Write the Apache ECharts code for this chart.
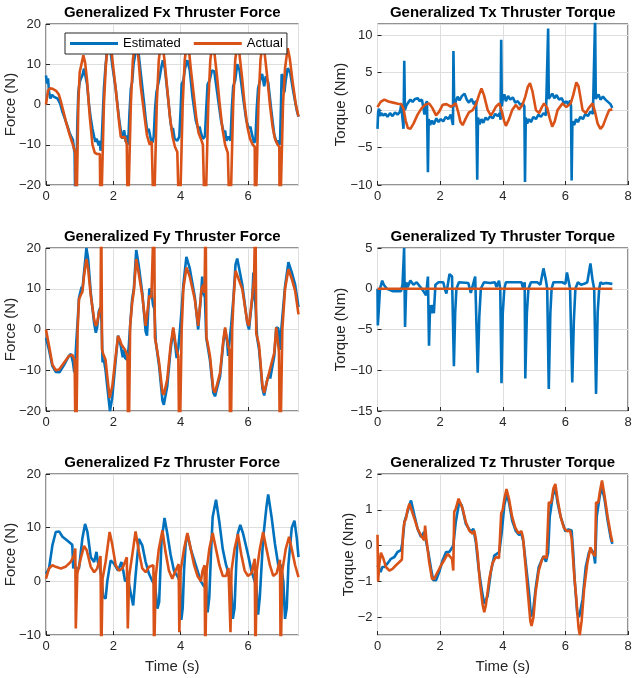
<!DOCTYPE html>
<html><head><meta charset="utf-8">
<script src="https://cdn.jsdelivr.net/npm/echarts@6/dist/echarts.min.js"></script>
<style>html,body{margin:0;padding:0;background:#fff}#c{width:636px;height:678px}</style>
</head><body><div id="c"></div>
<script>
// ---- data: [time (s), value] ----
const fxEst = [[0,7.2],[0.03,5.2],[0.06,6.5],[0.09,3.1],[0.13,1.5],[0.18,2.4],[0.24,1.9],[0.34,1.5],[0.42,0.2],[0.49,-1.9],[0.56,-3.5],[0.63,-5.2],[0.7,-7],[0.75,-8],[0.8,-8.8],[0.83,-11],[0.85,-12],[0.87,-25],[0.9,-20],[0.93,-5],[0.96,3],[1.0,5.6],[1.04,6.5],[1.08,7.2],[1.13,8.9],[1.17,8.6],[1.22,5],[1.28,-0.2],[1.33,-3.5],[1.38,-6],[1.43,-8],[1.47,-9.3],[1.5,-8.5],[1.54,-9.5],[1.57,-10.2],[1.6,-9],[1.62,-11.5],[1.65,-10],[1.69,-2],[1.72,3.9],[1.77,9.7],[1.82,13.9],[1.87,15.5],[1.92,13],[1.97,9.7],[2.07,3.9],[2.17,-3.5],[2.24,-7.7],[2.27,-8.5],[2.32,-6.4],[2.37,-9.3],[2.4,-7.7],[2.44,-10],[2.48,-2],[2.52,3.9],[2.56,5.6],[2.6,10],[2.64,12],[2.67,13.9],[2.71,14.7],[2.76,12],[2.81,8.1],[2.91,0.6],[2.96,-3.5],[3.01,-6.8],[3.05,-6],[3.11,-8.5],[3.16,-9.5],[3.2,-8],[3.24,-1],[3.28,3],[3.33,5],[3.37,6.5],[3.42,9],[3.47,11],[3.53,9],[3.62,2],[3.7,-4.5],[3.74,-6.5],[3.77,-5.8],[3.82,-8.5],[3.9,-9],[3.96,-8],[4.0,-1],[4.03,5],[4.08,6],[4.13,9],[4.2,11],[4.27,8.5],[4.35,2],[4.45,-4],[4.52,-6],[4.56,-5.5],[4.6,-7],[4.66,-8.5],[4.72,-8],[4.76,-1],[4.8,5],[4.86,6],[4.93,8.5],[5.0,8.2],[5.1,2],[5.2,-4],[5.28,-7],[5.32,-6.5],[5.36,-9],[5.42,-8],[5.48,-9],[5.52,-1],[5.56,4.5],[5.62,6],[5.68,10],[5.75,8.5],[5.85,2],[5.95,-4],[6.03,-6],[6.07,-5.5],[6.12,-7.5],[6.18,-9.5],[6.22,-9],[6.26,-1],[6.3,4],[6.36,6],[6.42,7.6],[6.48,4.5],[6.53,7],[6.6,5.5],[6.7,-2],[6.78,-7.5],[6.85,-9.5],[6.9,-9],[6.95,-10],[6.98,0],[7.0,7.5],[7.04,7],[7.08,3],[7.12,6],[7.18,9],[7.25,8],[7.35,3],[7.45,-1.5],[7.5,-3]];
const fxAct = [[0,0],[0.06,3.5],[0.12,4],[0.2,3.9],[0.3,3.4],[0.38,2.5],[0.45,0.5],[0.52,-1.8],[0.6,-4.5],[0.7,-7.5],[0.78,-9.5],[0.85,-11.4],[0.87,-12],[0.89,-30],[0.92,-20],[0.96,0],[1.0,8],[1.04,9.5],[1.11,12.2],[1.16,10.5],[1.22,6],[1.3,-3],[1.38,-10],[1.45,-12],[1.52,-12.3],[1.6,-12.3],[1.62,-30],[1.66,-20],[1.72,0],[1.78,10],[1.84,15],[1.9,15.5],[1.96,12],[2.07,3.9],[2.17,-4.3],[2.22,-8],[2.28,-8.2],[2.34,-8],[2.4,-10],[2.43,-30],[2.46,-20],[2.52,0],[2.58,11],[2.64,15],[2.7,15],[2.75,11],[2.81,4.8],[2.91,-1.9],[3.0,-7.7],[3.08,-10],[3.14,-9.2],[3.18,-9],[3.2,-30],[3.23,-20],[3.29,0],[3.35,11],[3.41,15],[3.47,14.5],[3.52,11],[3.6,4],[3.68,-3],[3.76,-8],[3.83,-10.5],[3.9,-11.8],[3.95,-12],[3.96,-30],[4.0,-20],[4.06,0],[4.12,11],[4.18,15],[4.24,14],[4.3,9],[4.38,3],[4.46,-3],[4.53,-7],[4.6,-8.5],[4.66,-10],[4.7,-10],[4.72,-30],[4.76,-20],[4.82,0],[4.88,11],[4.94,15],[5.0,13],[5.08,7],[5.16,0],[5.24,-6],[5.32,-10],[5.4,-12],[5.45,-12],[5.46,-30],[5.5,-20],[5.56,0],[5.62,11],[5.68,15],[5.74,13],[5.82,7],[5.9,0],[5.98,-5.5],[6.06,-8.5],[6.14,-10],[6.2,-10.5],[6.21,-30],[6.25,-20],[6.31,0],[6.37,11],[6.43,15],[6.49,13],[6.57,7],[6.65,0],[6.73,-5.5],[6.8,-8.5],[6.88,-10],[6.93,-10.5],[6.94,-30],[6.98,-20],[7.04,0],[7.1,9],[7.18,14],[7.24,11.5],[7.32,6],[7.42,0],[7.5,-3]];

const txEst = [[0,-2.5],[0.02,-0.3],[0.05,0.2],[0.08,-0.8],[0.12,-0.4],[0.18,-0.7],[0.25,-0.5],[0.32,-0.9],[0.4,-0.4],[0.48,-0.8],[0.56,-0.3],[0.64,-0.6],[0.72,-0.2],[0.76,0.8],[0.8,-1.2],[0.83,-2.5],[0.855,6.6],[0.875,0],[0.92,0.6],[0.98,1.0],[1.05,1.4],[1.12,1.1],[1.2,1.5],[1.28,1.6],[1.35,1.2],[1.42,1.4],[1.46,0.4],[1.5,-0.6],[1.54,0.8],[1.58,1.2],[1.61,-8.3],[1.635,-1.2],[1.68,-2],[1.74,-1.4],[1.8,-1.9],[1.88,-1.1],[1.95,-1.6],[2.02,-1.2],[2.1,-1.5],[2.18,-0.9],[2.26,-1.2],[2.34,-0.6],[2.39,-0.8],[2.41,-2],[2.425,7.9],[2.45,0.5],[2.5,1.2],[2.56,1.8],[2.62,1.3],[2.7,1.9],[2.78,2.2],[2.85,1.4],[2.92,1.0],[3.0,1.5],[3.08,0.8],[3.15,1.2],[3.185,-9.3],[3.21,-1],[3.26,-1.9],[3.32,-1.2],[3.38,-1.7],[3.45,-1.0],[3.52,-1.3],[3.6,-0.8],[3.68,-1.1],[3.76,-0.5],[3.84,-0.8],[3.9,-0.4],[3.93,-1.3],[3.95,9.4],[3.97,0.5],[4.0,1.5],[4.05,2.1],[4.1,1.2],[4.17,1.9],[4.24,1.4],[4.32,1.7],[4.4,1.0],[4.48,1.2],[4.56,0.7],[4.64,0.9],[4.69,0.5],[4.71,-9.6],[4.735,-1],[4.78,-1.8],[4.84,-1.2],[4.9,-1.6],[4.98,-0.9],[5.06,-1.2],[5.14,-0.6],[5.22,-0.9],[5.3,-0.4],[5.38,-0.7],[5.43,-0.9],[5.45,10.9],[5.47,1.5],[5.52,1.3],[5.58,2.2],[5.65,1.6],[5.72,2.0],[5.8,1.4],[5.88,1.6],[5.96,0.9],[6.04,1.2],[6.1,0.6],[6.15,1.3],[6.18,0.6],[6.2,-9.4],[6.225,-1.5],[6.28,-2],[6.34,-1.2],[6.4,-1.6],[6.48,-0.9],[6.56,-1.2],[6.64,-0.5],[6.72,-0.8],[6.8,-0.2],[6.88,-0.5],[6.93,-0.6],[6.95,12.5],[6.97,1.5],[7.02,1.7],[7.06,2.1],[7.12,1.4],[7.2,1.8],[7.28,1.4],[7.36,1.1],[7.44,0.8],[7.5,0.3]];
const txAct = [[0,0.4],[0.1,1.1],[0.22,1.4],[0.35,1.15],[0.5,1.0],[0.65,0.85],[0.76,0.8],[0.83,0.2],[0.9,-1.4],[0.97,-2.4],[1.05,-2.5],[1.15,-1.8],[1.28,-0.6],[1.4,0.2],[1.52,0.7],[1.65,0.9],[1.75,0.3],[1.87,-0.7],[1.97,-0.2],[2.08,0.7],[2.2,0.8],[2.35,0.45],[2.5,0.9],[2.58,-0.3],[2.65,-1.6],[2.72,-2.0],[2.82,-1.1],[2.92,-0.3],[3.04,0],[3.15,0.8],[3.24,2],[3.32,2.9],[3.4,2],[3.52,0],[3.62,-0.7],[3.7,-0.2],[3.78,0.45],[3.89,0.9],[3.98,-0.3],[4.04,-1.4],[4.1,-2.1],[4.2,-1.2],[4.3,0],[4.42,0.7],[4.52,0.1],[4.63,0.7],[4.72,1.8],[4.8,3.1],[4.87,3.6],[4.95,2.5],[5.06,0],[5.16,-0.4],[5.25,0.4],[5.32,0.9],[5.42,0.3],[5.5,-1.1],[5.58,-2.2],[5.66,-1.5],[5.75,0],[5.91,0.9],[6.03,0.4],[6.17,0.9],[6.25,2],[6.35,3.7],[6.42,3.2],[6.55,0],[6.65,-0.4],[6.75,0.3],[6.87,0.9],[6.95,-0.3],[7.03,-1.8],[7.12,-2.5],[7.2,-2.1],[7.3,-1],[7.4,0],[7.5,0.1]];

const fyEst = [[0,-2],[0.09,-5],[0.19,-9],[0.29,-10.4],[0.4,-10.5],[0.53,-8.8],[0.68,-6.5],[0.74,-6],[0.8,-8],[0.84,-10.5],[0.87,-8],[0.9,-3],[0.94,2],[0.98,7.8],[1.03,9.5],[1.06,10.5],[1.08,9.5],[1.13,14],[1.2,20],[1.25,17.5],[1.33,9],[1.43,1.5],[1.48,-0.8],[1.52,0.5],[1.57,4.5],[1.62,5.5],[1.65,2],[1.68,-8],[1.72,-7.5],[1.77,-10],[1.82,-14],[1.9,-20],[1.97,-16.5],[2.07,-7.5],[2.14,-1.5],[2.19,-3],[2.22,-4],[2.28,-6.8],[2.31,-5],[2.35,-7],[2.42,-7.5],[2.46,-4],[2.5,1],[2.56,7.5],[2.61,10],[2.68,19.5],[2.75,16],[2.86,9],[2.96,-0.5],[3.0,-1.5],[3.07,10],[3.13,9.5],[3.18,6],[3.22,5],[3.26,-3],[3.36,-9],[3.46,-17.5],[3.5,-18.5],[3.6,-14],[3.7,-5],[3.78,0],[3.84,-4],[3.88,-7],[3.93,-4.5],[3.98,0],[4.03,5],[4.08,11],[4.17,17.8],[4.27,15],[4.42,8],[4.52,0],[4.6,8],[4.64,13],[4.67,9],[4.72,8],[4.76,-2],[4.8,-4],[4.87,-7.5],[4.97,-15.5],[5.02,-16.4],[5.17,-11.5],[5.27,-3],[5.32,0],[5.38,-3],[5.41,-6.5],[5.45,-3],[5.5,1],[5.57,8],[5.63,16],[5.68,17.4],[5.83,11],[5.98,1.5],[6.03,0],[6.13,8],[6.16,14],[6.19,9],[6.23,5],[6.27,-2],[6.33,-5],[6.43,-14.5],[6.48,-16.2],[6.58,-12],[6.63,-11],[6.66,-12],[6.78,-6.5],[6.84,0.5],[6.9,0.3],[6.95,-5],[6.98,-1],[7.02,3],[7.1,10.5],[7.2,16.5],[7.3,14],[7.4,11],[7.5,5.5]];
const fyAct = [[0,0],[0.09,-4],[0.19,-8.6],[0.29,-10],[0.39,-9.8],[0.53,-8.2],[0.68,-6.5],[0.78,-6.2],[0.85,-7.5],[0.88,-30],[0.91,-20],[0.94,0],[0.98,7.4],[1.03,8.4],[1.08,9.2],[1.13,13.2],[1.2,17.3],[1.25,15],[1.33,8.3],[1.43,2.5],[1.48,0.9],[1.52,1.6],[1.57,4],[1.62,5.4],[1.64,30],[1.665,-5],[1.7,-6],[1.77,-7.5],[1.82,-11.5],[1.89,-16.8],[1.97,-13.9],[2.07,-6.5],[2.14,-1.6],[2.19,-2.4],[2.24,-3.7],[2.29,-3.4],[2.35,-5],[2.42,-6.5],[2.44,-30],[2.47,-20],[2.5,0.9],[2.56,6.6],[2.61,9.5],[2.68,17.3],[2.75,14],[2.86,8.3],[2.96,0.9],[3.0,0.5],[3.07,8.3],[3.13,7.8],[3.18,7.5],[3.21,30],[3.235,-2],[3.28,-4],[3.36,-8.2],[3.46,-15.5],[3.5,-16],[3.6,-12.3],[3.7,-4],[3.78,0.5],[3.84,-3],[3.88,-5],[3.93,-6.5],[3.96,-30],[3.99,-20],[4.03,0],[4.08,10],[4.17,15.2],[4.27,13],[4.42,7.4],[4.52,0.9],[4.62,9.9],[4.67,11],[4.71,9],[4.74,30],[4.765,-2],[4.8,-3.3],[4.87,-6.5],[4.97,-14.7],[5.02,-15.5],[5.17,-10.6],[5.27,-2.4],[5.32,0.5],[5.41,-4],[5.45,-5],[5.47,-30],[5.5,-20],[5.53,0],[5.57,7.4],[5.63,14.4],[5.68,14.8],[5.83,9.9],[5.98,1.7],[6.03,0.9],[6.13,8.3],[6.18,12.4],[6.22,30],[6.245,-1],[6.28,-2],[6.33,-4],[6.43,-13.9],[6.48,-15.5],[6.63,-10.5],[6.78,-5.7],[6.84,0.5],[6.92,-5.5],[6.95,-30],[6.98,-20],[7.02,0],[7.1,9.9],[7.2,14.8],[7.3,12.4],[7.4,9.5],[7.5,3.7]];

const tyEst = [[0,0],[0.01,-4.5],[0.05,-2],[0.08,0],[0.15,1],[0.2,0.5],[0.3,0],[0.5,-0.3],[0.75,-0.3],[0.8,0.5],[0.85,5],[0.88,-4.7],[0.92,0.8],[0.96,0.2],[1.05,1],[1.15,0.5],[1.25,0.8],[1.35,0.3],[1.45,-0.2],[1.55,-0.8],[1.61,1.5],[1.645,-7],[1.68,-2],[1.72,-3],[1.76,-2],[1.8,-3],[1.85,0.5],[1.95,0.8],[2.1,0.8],[2.15,0],[2.2,-0.6],[2.25,-0.5],[2.3,1.8],[2.38,1.5],[2.44,-9.5],[2.48,-3],[2.52,0],[2.6,0.8],[2.9,0.7],[2.98,-0.5],[3.05,0.5],[3.12,1.5],[3.2,-10.3],[3.25,-3.5],[3.3,0],[3.4,0.8],[3.6,0.7],[3.75,0.8],[3.8,0.2],[3.88,1],[3.92,0],[3.96,-11.6],[4.0,-3],[4.05,0],[4.1,0.8],[4.4,0.8],[4.6,0.8],[4.65,0],[4.7,0.8],[4.72,-11],[4.77,-3],[4.82,0],[4.9,0.8],[5.1,0.8],[5.2,0.5],[5.3,2.5],[5.38,1],[5.42,0],[5.47,-12.3],[5.52,-3],[5.56,0],[5.62,0.8],[5.9,0.8],[6.0,0.6],[6.05,2],[6.1,1],[6.15,0],[6.22,-11.5],[6.27,-4],[6.32,0],[6.4,0.8],[6.5,0.5],[6.6,0.6],[6.7,0.8],[6.8,3.1],[6.87,1],[6.92,0],[6.98,-12.9],[7.03,-3],[7.08,0],[7.12,0.8],[7.2,0.6],[7.3,0.7],[7.5,0.6]];
const tyAct = [[0,0],[7.5,0]];

const fzEst = [[0,1.4],[0.09,2.4],[0.19,6.7],[0.29,9.2],[0.39,9.3],[0.49,8.3],[0.63,7.6],[0.78,6.8],[0.81,2.4],[0.85,3.6],[0.88,2.4],[0.98,2.4],[1.08,8],[1.16,10.7],[1.23,9.2],[1.33,4.5],[1.43,3.6],[1.5,5.5],[1.54,3.6],[1.6,2.6],[1.64,1],[1.7,-2.9],[1.77,-3.2],[1.82,0],[1.92,3.9],[2.02,3.3],[2.14,2],[2.24,3.6],[2.3,1.8],[2.35,0],[2.43,0.6],[2.51,-2],[2.59,-4.5],[2.66,1],[2.76,7.9],[2.86,6.7],[2.96,3.6],[3.06,1.4],[3.16,0],[3.24,-0.7],[3.31,-5.1],[3.36,-3.9],[3.43,7.3],[3.52,11.8],[3.6,9],[3.7,5],[3.8,2],[3.9,1],[3.98,0],[4.02,-7.2],[4.06,-5],[4.1,2],[4.15,7],[4.2,8.8],[4.3,6],[4.4,4],[4.5,2],[4.6,0],[4.7,-1],[4.75,0],[4.8,-5.8],[4.85,-3],[4.9,5],[4.95,12],[5.05,15.2],[5.15,11],[5.25,6],[5.35,3],[5.45,1],[5.5,-1],[5.55,-7],[5.6,-5],[5.65,3],[5.7,9],[5.77,10.5],[5.85,9],[6.0,5],[6.1,2],[6.2,0],[6.25,-1],[6.3,-6.2],[6.35,-3],[6.45,8],[6.55,14],[6.6,16.2],[6.7,12],[6.8,7],[6.9,3],[6.98,3],[7.05,0],[7.1,-7],[7.15,-5],[7.2,3],[7.3,10],[7.38,11.3],[7.45,8],[7.5,4.5]];
const fzAct = [[0,0.5],[0.09,2.4],[0.19,3],[0.29,2.7],[0.44,2.4],[0.58,2.7],[0.73,3.6],[0.83,4.8],[0.87,6.1],[0.885,-8.8],[0.93,1.4],[1.03,4.2],[1.13,6.6],[1.21,5.8],[1.33,2.7],[1.43,1.7],[1.52,2.4],[1.62,4.7],[1.64,-15],[1.68,0.5],[1.77,3.6],[1.89,9.2],[1.97,6.8],[2.07,3],[2.17,2],[2.27,2.4],[2.4,4.5],[2.43,-8.8],[2.47,1],[2.56,4.8],[2.66,9.3],[2.76,5.5],[2.86,2.4],[2.96,1.7],[3.06,2.7],[3.19,3],[3.21,-15],[3.26,1],[3.35,6],[3.46,9.5],[3.55,5.5],[3.65,2],[3.75,0.5],[3.85,2],[3.94,3.2],[3.96,-9.5],[4.0,2],[4.1,6],[4.2,9],[4.3,6],[4.4,3],[4.5,1],[4.6,0],[4.65,2],[4.71,3],[4.73,-15],[4.77,2],[4.85,6],[4.95,9],[5.05,6],[5.15,3],[5.25,1],[5.35,1],[5.42,2.5],[5.46,2.8],[5.48,-9.5],[5.51,2],[5.6,6],[5.7,8.8],[5.8,5],[5.9,2],[6.0,1],[6.1,1.5],[6.2,4.2],[6.22,-15],[6.26,2],[6.35,6],[6.45,9.2],[6.55,6],[6.65,3],[6.75,1],[6.85,1.5],[6.95,4],[6.97,-15],[7.02,2],[7.12,6],[7.22,8.3],[7.3,6],[7.4,3],[7.5,0.8]];

const tzEst = [[0,-0.55],[0.05,-0.65],[0.1,-0.74],[0.15,-0.6],[0.22,-0.6],[0.32,-0.5],[0.43,-0.37],[0.54,-0.32],[0.64,-0.18],[0.75,-0.13],[0.8,0.1],[0.86,0.66],[0.96,0.95],[1.07,1.26],[1.18,0.84],[1.28,0.47],[1.39,0.24],[1.49,0.38],[1.55,0.42],[1.62,-0.18],[1.71,-0.65],[1.78,-0.97],[1.87,-0.97],[1.97,-0.74],[2.08,-0.41],[2.19,-0.18],[2.29,-0.18],[2.36,-0.09],[2.42,0],[2.5,0.66],[2.61,1.22],[2.69,1.12],[2.82,0.61],[2.98,0.38],[3.06,0.47],[3.14,0.1],[3.23,-0.65],[3.34,-1.3],[3.41,-1.63],[3.52,-1.4],[3.62,-0.74],[3.73,-0.28],[3.89,-0.18],[3.97,0.38],[4.05,1.12],[4.13,1.45],[4.2,1.2],[4.3,0.7],[4.42,0.4],[4.52,0.3],[4.6,0.32],[4.66,0.1],[4.75,-0.6],[4.85,-1.4],[4.9,-1.98],[4.96,-1.9],[5.05,-1.2],[5.15,-0.6],[5.3,-0.3],[5.38,-0.45],[5.45,-0.2],[5.5,0.8],[5.6,1.4],[5.68,1.6],[5.75,1.2],[5.85,0.8],[6.0,0.4],[6.1,0.45],[6.2,0.42],[6.25,-0.2],[6.3,-1.0],[6.38,-1.9],[6.44,-2.0],[6.55,-1.5],[6.65,-0.6],[6.75,-0.2],[6.82,-0.1],[6.9,-0.2],[6.95,-0.5],[7.0,0.8],[7.1,1.4],[7.17,1.6],[7.25,1.3],[7.35,0.7],[7.45,0.2],[7.5,0.05]];
const tzAct = [[0,0.3],[0.02,-1.0],[0.06,-0.5],[0.11,-0.2],[0.19,-0.37],[0.27,-0.6],[0.38,-0.7],[0.48,-0.65],[0.59,-0.55],[0.7,-0.46],[0.78,-0.39],[0.82,0.4],[0.86,0.66],[0.91,0.75],[0.96,1.0],[1.02,1.17],[1.07,1.12],[1.18,0.75],[1.28,0.47],[1.39,0.28],[1.49,0.15],[1.52,0.56],[1.56,0.2],[1.65,-0.46],[1.74,-0.93],[1.81,-0.93],[1.92,-0.74],[2.03,-0.55],[2.13,-0.41],[2.24,-0.23],[2.3,-0.28],[2.38,-0.37],[2.42,-0.7],[2.45,0.94],[2.5,1.03],[2.59,1.31],[2.63,1.36],[2.72,1.03],[2.82,0.66],[2.93,0.42],[3.04,0.33],[3.09,0.42],[3.14,0.19],[3.2,-0.27],[3.27,-1.02],[3.36,-1.67],[3.41,-1.86],[3.46,-1.67],[3.57,-0.93],[3.67,-0.5],[3.78,-0.32],[3.88,-0.35],[3.92,-0.3],[3.95,0.9],[4.0,1.0],[4.05,1.3],[4.12,1.58],[4.2,1.3],[4.3,0.8],[4.4,0.5],[4.5,0.35],[4.56,0.3],[4.6,0.4],[4.65,0.2],[4.72,-0.5],[4.8,-1.3],[4.88,-2.1],[4.92,-2.25],[4.98,-2.0],[5.05,-1.3],[5.15,-0.7],[5.25,-0.4],[5.32,-0.3],[5.4,-0.35],[5.45,-0.3],[5.47,1.2],[5.55,1.2],[5.62,1.6],[5.68,1.72],[5.75,1.3],[5.85,0.8],[5.95,0.5],[6.05,0.4],[6.15,0.42],[6.2,0.2],[6.28,-0.8],[6.35,-1.5],[6.42,-2.3],[6.46,-2.5],[6.52,-2.1],[6.6,-1.2],[6.7,-0.5],[6.8,-0.05],[6.86,-0.2],[6.95,-0.3],[6.98,1.2],[7.05,1.2],[7.1,1.5],[7.17,1.82],[7.25,1.4],[7.35,0.8],[7.45,0.3],[7.5,0.1]];

const titles = ['Generalized Fx Thruster Force','Generalized Tx Thruster Torque','Generalized Fy Thruster Force','Generalized Ty Thruster Torque','Generalized Fz Thruster Force','Generalized Tz Thruster Torque'];
const yNames = ['Force (N)','Torque (Nm)','Force (N)','Torque (Nm)','Force (N)','Torque (Nm)'];
const xName = 'Time (s)';
const seriesNames = ['Estimated','Actual'];
const estData = [fxEst, txEst, fyEst, tyEst, fzEst, tzEst];
const actData = [fxAct, txAct, fyAct, tyAct, fzAct, tzAct];
// axis ranges [min, max, interval]
const yRanges = [[-20,20,10],[-10,11.5,5],[-20,20,10],[-15,5,5],[-10,20,10],[-2.5,2,null]];
const xRanges = [[0,7.5,2],[0,8,2],[0,7.5,2],[0,8,2],[0,7.5,2],[0,8,2]];

// ---- layout / style ----
const layout = [
  {left:46, top:24, width:252.5, height:161},
  {left:377.5, top:24, width:250.5, height:161},
  {left:46, top:248, width:252.5, height:163},
  {left:377.5, top:248, width:250.5, height:163},
  {left:46, top:474, width:252.5, height:161},
  {left:377.5, top:474, width:250.5, height:161}
];
const yNameGaps = [27.5, 29, 27.5, 29, 27.5, 21];
const FONT = '"Liberation Sans", Arial, Helvetica, sans-serif';
const BLUE = '#0072BD', ORANGE = '#D95319';
const AX = '#262626', GRIDC = '#dedede';
const minus = v => String(v).replace('-', '\u2212');

const grid = [], xAxis = [], yAxis = [], series = [];
for (let i = 0; i < 6; i++) {
  grid.push(Object.assign({show:true, borderColor:AX, borderWidth:1, containLabel:false}, layout[i]));
  const xr = xRanges[i], yr = yRanges[i];
  xAxis.push({
    type:'value', gridIndex:i, position:'bottom', min:xr[0], max:xr[1], interval:xr[2],
    axisLine:{show:false, onZero:false},
    axisTick:{show:true, inside:true, length:4, lineStyle:{color:AX}},
    axisLabel:{fontSize:13, color:AX, fontFamily:FONT, margin:5, showMaxLabel: xr[1] % xr[2] === 0, formatter:minus},
    splitLine:{show:true, lineStyle:{color:GRIDC, width:1}},
    name: i >= 4 ? xName : '', nameLocation:'middle', nameGap:24, nameMoveOverlap:false,
    nameTextStyle:{fontSize:15, color:AX, fontFamily:FONT}
  });
  xAxis.push({
    type:'value', gridIndex:i, position:'top', min:xr[0], max:xr[1],
    axisLine:{show:false, onZero:false}, axisTick:{show:false}, axisLabel:{show:false}, splitLine:{show:false},
    name: titles[i], nameLocation:'middle', nameGap:4, nameMoveOverlap:false,
    nameTextStyle:{fontSize:15, fontWeight:'bold', color:'#000', fontFamily:FONT}
  });
  const yax = {
    type:'value', gridIndex:i, min:yr[0], max:yr[1],
    axisLine:{show:false, onZero:false},
    axisTick:{show:true, inside:true, length:4, lineStyle:{color:AX}},
    axisLabel:{fontSize:13, color:AX, fontFamily:FONT, margin:5, formatter:minus, showMinLabel: yr[2] ? true : false, showMaxLabel: yr[2] ? (yr[1] % yr[2] === 0) : true},
    splitLine:{show:true, lineStyle:{color:GRIDC, width:1}},
    name: yNames[i], nameLocation:'middle', nameGap:yNameGaps[i], nameMoveOverlap:false,
    nameTextStyle:{fontSize:15, color:AX, fontFamily:FONT}
  };
  if (yr[2]) yax.interval = yr[2];
  yAxis.push(yax);
  series.push({name:seriesNames[0], type:'line', xAxisIndex:2*i, yAxisIndex:i, data:estData[i], symbol:'none', showSymbol:false, clip:true, lineStyle:{color:BLUE, width:2.6}, itemStyle:{color:BLUE}, z:2});
  series.push({name:seriesNames[1], type:'line', xAxisIndex:2*i, yAxisIndex:i, data:actData[i], symbol:'none', showSymbol:false, clip:true, lineStyle:{color:ORANGE, width:2.6}, itemStyle:{color:ORANGE}, z:3});
}

const chart = echarts.init(document.getElementById('c'), null, {renderer:'canvas'});
chart.setOption({
  animation:false,
  backgroundColor:'#fff',
  textStyle:{fontFamily:FONT},
  grid, xAxis, yAxis, series,
  legend:{
    data:seriesNames, left:65, top:33, orient:'horizontal',
    icon:'rect', itemWidth:48, itemHeight:3, itemGap:13, padding:[3,4,3,5],
    borderColor:AX, borderWidth:1, backgroundColor:'#fff',
    textStyle:{fontSize:13, color:'#000', fontFamily:FONT, lineHeight:15},
    selectedMode:false, z:10
  }
});
</script></body></html>
